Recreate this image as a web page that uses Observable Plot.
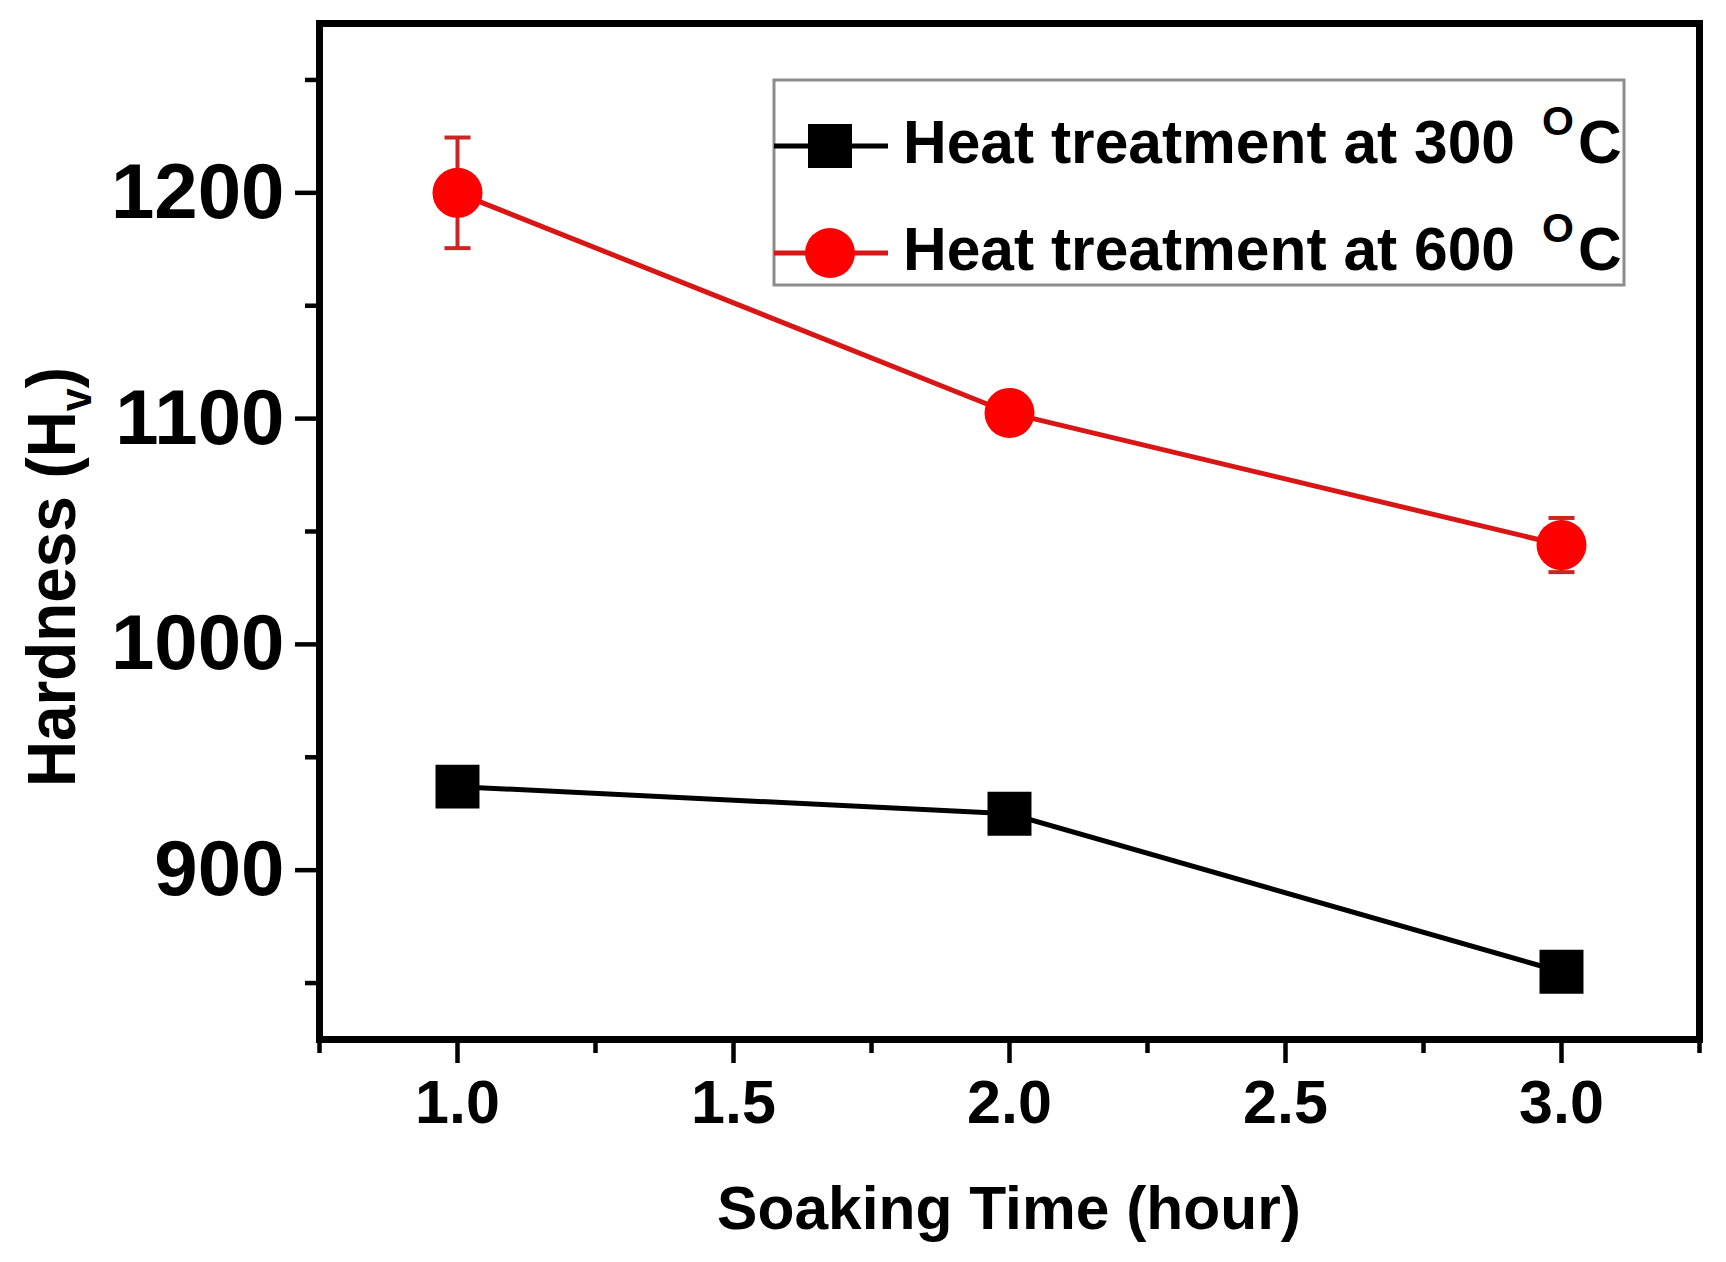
<!DOCTYPE html>
<html>
<head>
<meta charset="utf-8">
<script src="https://cdn.jsdelivr.net/npm/d3@7"></script>
<script src="https://cdn.jsdelivr.net/npm/@observablehq/plot@0.6"></script>
<style>
  html, body { margin: 0; padding: 0; background: #fff; }
  #chart { width: 1726px; height: 1262px; }
</style>
</head>
<body>
<div id="chart"></div>
<script>
// ---- data ----
const soakTime = [1.0, 2.0, 3.0];
const hardness300 = [937, 925, 855];
const hardness600 = [1200, 1102.5, 1044];
const error600 = [24.5, 3, 12];
const seriesNames = ["Heat treatment at 300", "Heat treatment at 600"];
const xMajorTicks = [1.0, 1.5, 2.0, 2.5, 3.0];
const xMinorTicks = [0.75, 1.25, 1.75, 2.25, 2.75, 3.25];
const yMajorTicks = [900, 1000, 1100, 1200];
const yMinorTicks = [850, 950, 1050, 1150, 1250];

const rows300 = soakTime.map((t, i) => ({t, h: hardness300[i]}));
const rows600 = soakTime.map((t, i) => ({t, h: hardness600[i], lo: hardness600[i] - error600[i], hi: hardness600[i] + error600[i]}));
const caps600 = rows600.flatMap(r => [{t: r.t, v: r.lo}, {t: r.t, v: r.hi}]);

const FONT = "'Liberation Sans', Arial, Helvetica, sans-serif";
const RED_LINE = "#d81616";
const RED_ERR = "#cc2424";
const RED_DOT = "#ff0000";

const W = 1726, H = 1262;
const mL = 319, mR = 27, mT = 23, mB = 223;

// horizontal cap symbol for error bars
const capSymbol = {
  draw(ctx, size) {
    const w = Math.sqrt(size) / 2;
    ctx.moveTo(-w, 0);
    ctx.lineTo(w, 0);
  }
};

const svg = Plot.plot({
  width: W,
  height: H,
  marginLeft: mL,
  marginRight: mR,
  marginTop: mT,
  marginBottom: mB,
  style: {fontFamily: FONT, background: "#fff", color: "#000"},
  x: {type: "linear", domain: [0.75, 3.25]},
  y: {type: "linear", domain: [825, 1275]},
  marks: [
    Plot.axisX(xMajorTicks, {tickSize: 24, tickPadding: 16, fontSize: 61, fontWeight: "bold", strokeWidth: 4.5, tickFormat: d3.format(".1f"), label: null}),
    Plot.axisX(xMinorTicks, {tickSize: 14, strokeWidth: 4.5, tickFormat: () => "", label: null}),
    Plot.axisY(yMajorTicks, {tickSize: 24, tickPadding: 11, fontSize: 78, fontWeight: "bold", strokeWidth: 4.5, tickFormat: d3.format("d"), label: null}),
    Plot.axisY(yMinorTicks, {tickSize: 14, strokeWidth: 4.5, tickFormat: () => "", label: null}),
    Plot.frame({stroke: "#000", strokeWidth: 7}),
    // 300 °C series
    Plot.line(rows300, {x: "t", y: "h", stroke: "#000", strokeWidth: 5}),
    Plot.dot(rows300, {x: "t", y: "h", symbol: "square", r: 24.8, fill: "#000", stroke: "none"}),
    // 600 °C series
    Plot.line(rows600, {x: "t", y: "h", stroke: RED_LINE, strokeWidth: 5}),
    Plot.ruleX(rows600, {x: "t", y1: "lo", y2: "hi", stroke: RED_ERR, strokeWidth: 4}),
    Plot.dot(caps600, {x: "t", y: "v", symbol: capSymbol, r: 14.7, fill: "none", stroke: RED_ERR, strokeWidth: 4}),
    Plot.dot(rows600, {x: "t", y: "h", r: 25, fill: RED_DOT, stroke: "none"})
  ]
});

document.getElementById("chart").appendChild(svg);
const g = d3.select(svg);

// Axis titles
g.append("text")
  .attr("x", (mL + (W - mR)) / 2)
  .attr("y", 1229)
  .attr("text-anchor", "middle")
  .attr("font-family", FONT)
  .attr("font-weight", "bold")
  .attr("font-size", 60.5)
  .attr("fill", "#000")
  .text("Soaking Time (hour)");

const yl = g.append("text")
  .attr("transform", "translate(75,577) rotate(-90)")
  .attr("text-anchor", "middle")
  .attr("font-family", FONT)
  .attr("font-weight", "bold")
  .attr("font-size", 68)
  .attr("textLength", 420)
  .attr("lengthAdjust", "spacingAndGlyphs")
  .attr("fill", "#000");
yl.append("tspan").text("Hardness (H");
yl.append("tspan").attr("font-size", 44).attr("dy", 16).text("v");
yl.append("tspan").attr("dy", -16).text(")");

// Legend
const lg = g.append("g").attr("text-anchor", "start");
lg.append("rect")
  .attr("x", 774).attr("y", 80).attr("width", 850).attr("height", 205)
  .attr("fill", "#fff").attr("stroke", "#8c8c8c").attr("stroke-width", 3);
const rowsY = [146, 253];
const baseY = [163, 270];
const colors = ["#000", RED_LINE];
rowsY.forEach((yy, i) => {
  lg.append("line").attr("x1", 774).attr("x2", 888).attr("y1", yy).attr("y2", yy)
    .attr("stroke", colors[i]).attr("stroke-width", 5);
  if (i === 0) {
    lg.append("rect").attr("x", 830 - 22).attr("y", yy - 22).attr("width", 44).attr("height", 44).attr("fill", "#000");
  } else {
    lg.append("circle").attr("cx", 830).attr("cy", yy).attr("r", 25).attr("fill", RED_DOT);
  }
  const t = lg.append("text")
    .attr("x", 903).attr("y", baseY[i])
    .attr("text-anchor", "start")
    .attr("font-family", FONT).attr("font-weight", "bold").attr("font-size", 60.5).attr("fill", "#000");
  t.append("tspan").text(seriesNames[i]);
  t.append("tspan").attr("x", 1542).attr("font-size", 41).attr("dy", -28).text("O");
  t.append("tspan").attr("x", 1578).attr("dy", 28).text("C");
});
</script>
</body>
</html>
